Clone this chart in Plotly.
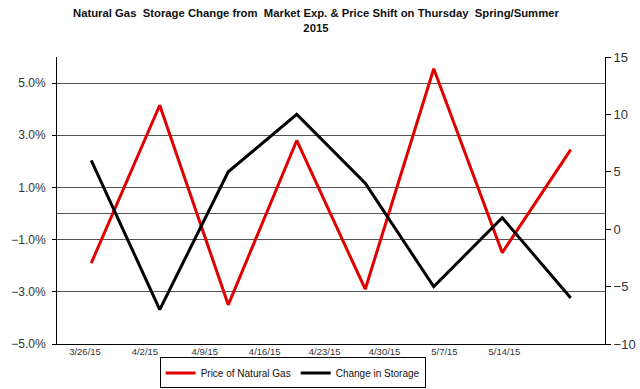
import plotly.graph_objects as go

dates = ["3/26/15", "4/2/15", "4/9/15", "4/16/15", "4/23/15", "4/30/15", "5/7/15", "5/14/15"]
price_pct = [-1.9, 4.15, -3.5, 2.8, -2.9, 5.55, -1.5, 2.45]
storage_chg = [6, -7, 5, 10, 4, -5, 1, -6]

fig = go.Figure()
fig.add_trace(go.Scatter(x=dates, y=price_pct, mode="lines", name="Price of Natural Gas",
                         line=dict(color="#e00000", width=3), yaxis="y"))
fig.add_trace(go.Scatter(x=dates, y=storage_chg, mode="lines", name="Change in Storage",
                         line=dict(color="#000000", width=3), yaxis="y2"))
# invisible trace to activate the label axis
fig.add_trace(go.Scatter(x=[None], y=[None], xaxis="x3", yaxis="y", showlegend=False, hoverinfo="skip"))

font_family = "Liberation Sans, Arial, sans-serif"

fig.update_layout(
    width=640, height=389,
    margin=dict(l=57, r=35, t=57, b=45, autoexpand=False),
    paper_bgcolor="white", plot_bgcolor="white",
    annotations=[dict(text="<b>Natural Gas  Storage Change from  Market Exp. & Price Shift on Thursday  Spring/Summer<br>2015</b>",
                      xref="paper", yref="paper", x=(316 - 57) / 548, y=(344 - 21) / 287,
                      xanchor="center", yanchor="middle", showarrow=False,
                      font=dict(family=font_family, size=11.3, color="#111"))],
    showlegend=True,
    legend=dict(orientation="h", x=0.43, xanchor="center", y=-0.101, yanchor="middle",
                bordercolor="#000", borderwidth=1, bgcolor="white",
                font=dict(family=font_family, size=10, color="#111"),
                itemwidth=30, tracegroupgap=0),
    xaxis=dict(type="category", range=[-0.5, 7.5], showticklabels=False, showgrid=False,
               showline=True, linecolor="#000", linewidth=1, ticks="", zeroline=False, automargin=False),
    xaxis3=dict(type="linear", overlaying="x", anchor="y", side="bottom", range=[-0.467, 8.68],
                tickmode="array", tickvals=list(range(len(dates))), ticktext=dates,
                showgrid=False, showline=False, zeroline=False, ticks="", automargin=False,
                tickfont=dict(family=font_family, size=9.5, color="#333")),
    yaxis=dict(range=[-5, 6], tick0=-5, dtick=2, tickformat=".1f", ticksuffix="%",
               showgrid=True, gridcolor="#555", gridwidth=1,
               zeroline=True, zerolinecolor="#555", zerolinewidth=1,
               showline=True, linecolor="#000", linewidth=1, automargin=False,
               ticks="outside", ticklen=4, tickcolor="#000", ticklabelstandoff=4,
               tickfont=dict(family=font_family, size=12, color="#333")),
    yaxis2=dict(overlaying="y", side="right", range=[-10, 15], dtick=5,
                showgrid=False, zeroline=False, automargin=False,
                showline=True, linecolor="#000", linewidth=1,
                ticks="outside", ticklen=5, tickcolor="#000",
                tickfont=dict(family=font_family, size=13, color="#333")),
)

fig.write_html("out.html", config={"displayModeBar": False},
               post_script="document.body.style.margin='0';document.body.style.padding='0';")
